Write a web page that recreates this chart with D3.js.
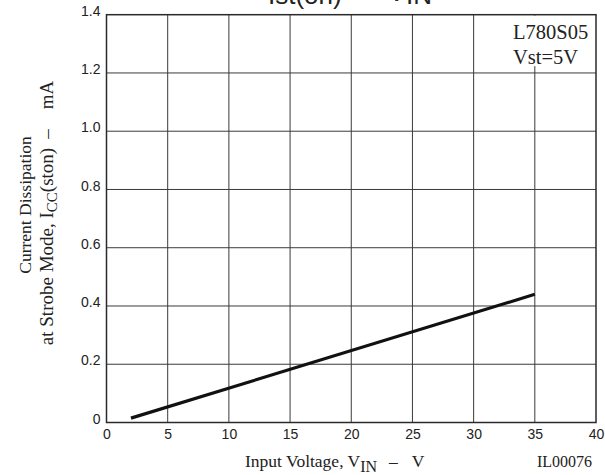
<!doctype html>
<html lang="en">
<head>
<meta charset="utf-8">
<title>Icc(ston) vs VIN</title>
<script src="https://d3js.org/d3.v7.min.js"></script>
<style>
  body { margin: 0; background: #fff; }
  svg { display: block; }
</style>
</head>
<body>
<div id="chart"></div>
<script>
// input voltage (V) and strobe-mode current (mA)
const vin = [2, 35]
const iccSton = [0.015, 0.44]

const xTicks = [0, 5, 10, 15, 20, 25, 30, 35, 40]
const yTicks = [0, 0.2, 0.4, 0.6, 0.8, 1.0, 1.2, 1.4]
const legendLines = ['L780S05', 'Vst=5V']

const W = 605, H = 475
const m = { left: 106.5, right: 9, top: 14.7, bottom: 52.5 }
const serif = 'Liberation Serif, Times New Roman, serif'
const sans = 'Liberation Sans, Arial, sans-serif'

const svg = d3.select('#chart').append('svg')
    .attr('width', W).attr('height', H)

const x = d3.scaleLinear().domain([0, 40]).range([m.left, W - m.right])
const y = d3.scaleLinear().domain([0, 1.4]).range([H - m.bottom, m.top])

// grid
svg.append('g').selectAll('line')
    .data(xTicks.slice(1, -1))
    .join('line')
    .attr('x1', d => x(d)).attr('x2', d => x(d))
    .attr('y1', y(0)).attr('y2', y(1.4))
    .attr('stroke', '#3a3a3a').attr('stroke-width', 1)

svg.append('g').selectAll('line')
    .data(yTicks.slice(1, -1))
    .join('line')
    .attr('x1', x(0)).attr('x2', x(40))
    .attr('y1', d => y(d)).attr('y2', d => y(d))
    .attr('stroke', '#3a3a3a').attr('stroke-width', 1)

// white box behind the part label
svg.append('rect')
    .attr('x', x(32.4)).attr('y', y(1.4) + 1)
    .attr('width', x(40) - x(32.4) - 1)
    .attr('height', y(1.22) - y(1.4) - 2)
    .attr('fill', '#fff')

// frame
svg.append('rect')
    .attr('x', x(0)).attr('y', y(1.4))
    .attr('width', x(40) - x(0)).attr('height', y(0) - y(1.4))
    .attr('fill', 'none').attr('stroke', '#2a2a2a').attr('stroke-width', 1.5)

// axes (labels only)
const xAxis = svg.append('g')
    .attr('transform', `translate(0,${y(0)})`)
    .call(d3.axisBottom(x).tickValues(xTicks).tickSize(0).tickPadding(7).tickFormat(d3.format('d')))
xAxis.select('.domain').remove()
xAxis.selectAll('text')
    .attr('font-family', sans).attr('font-size', 14).attr('fill', '#222')

const yAxis = svg.append('g')
    .attr('transform', `translate(${x(0)},0)`)
    .call(d3.axisLeft(y).tickValues(yTicks).tickSize(0).tickPadding(6)
        .tickFormat(d => d === 0 ? '0' : d3.format('.1f')(d)))
yAxis.select('.domain').remove()
yAxis.selectAll('text')
    .attr('font-family', sans).attr('font-size', 14).attr('fill', '#222')
    .attr('dy', '0.05em')

// curve
const line = d3.line().x(d => x(d[0])).y(d => y(d[1]))
svg.append('path')
    .datum(d3.zip(vin, iccSton))
    .attr('d', line)
    .attr('fill', 'none')
    .attr('stroke', '#111')
    .attr('stroke-width', 3.2)

// part label
svg.append('g').selectAll('text')
    .data(legendLines)
    .join('text')
    .attr('x', 513)
    .attr('y', (d, i) => 38.5 + i * 25)
    .attr('font-family', serif)
    .attr('font-size', 20.5).attr('fill', '#222')
    .text(d => d)

// title, mostly cut off by the top edge (as in the source figure)
const title = svg.append('g')
    .attr('font-family', sans).attr('font-size', 26).attr('fill', '#222')
title.append('text').attr('x', 268).attr('y', 4).text('Ist(on)')
title.append('text').attr('x', 388).attr('y', 1).text('V')
title.append('text').attr('x', 406).attr('y', 4).text('IN')

// x label
const xl = svg.append('text')
    .attr('x', 245).attr('y', 467)
    .attr('font-family', serif).attr('font-size', 17.5).attr('fill', '#222')
xl.append('tspan').text('Input Voltage, V')
xl.append('tspan').attr('dy', 5).attr('font-size', 16).text('IN')
xl.append('tspan').attr('dy', -5).attr('dx', 12).text('–')
xl.append('tspan').attr('dx', 14).text('V')

svg.append('text')
    .attr('x', 592).attr('y', 467)
    .attr('text-anchor', 'end')
    .attr('font-family', serif).attr('font-size', 16).attr('fill', '#222')
    .text('IL00076')

// y label, two lines
svg.append('text')
    .attr('transform', 'translate(31,205) rotate(-90)')
    .attr('text-anchor', 'middle')
    .attr('font-family', serif).attr('font-size', 17.5).attr('fill', '#222')
    .text('Current Dissipation')

const yl = svg.append('text')
    .attr('transform', 'translate(53,213) rotate(-90)')
    .attr('text-anchor', 'middle')
    .attr('font-family', serif).attr('font-size', 19).attr('fill', '#222')
yl.append('tspan').text('at Strobe Mode, I')
yl.append('tspan').attr('dy', 4).attr('font-size', 15).text('CC')
yl.append('tspan').attr('dy', -4).text('(ston)')
yl.append('tspan').attr('dx', 9).text('–')
yl.append('tspan').attr('dx', 20).text('mA')
</script>
</body>
</html>
